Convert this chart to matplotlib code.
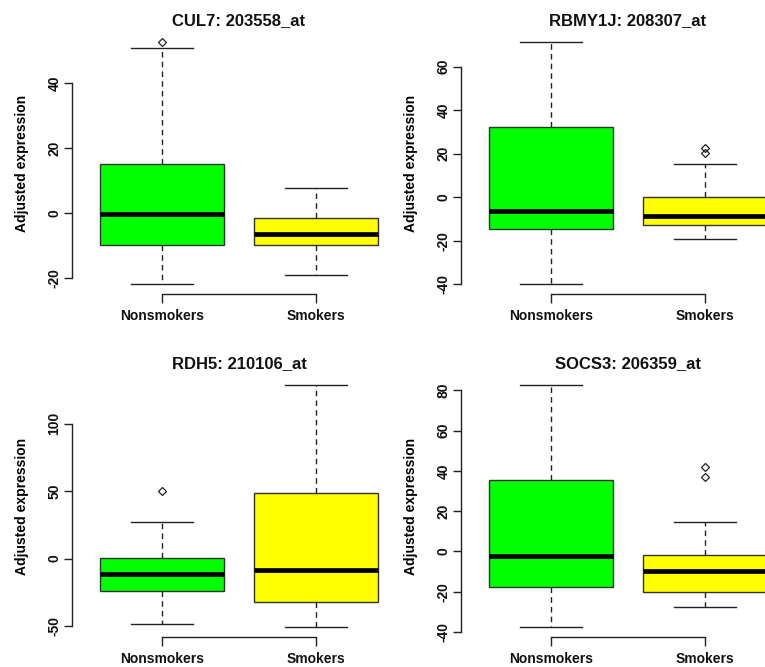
import numpy as np
import matplotlib
matplotlib.use("Agg")
import matplotlib.pyplot as plt

plt.rcParams["font.family"] = ["Liberation Sans", "DejaVu Sans"]
plt.rcParams["font.weight"] = "bold"
plt.rcParams["axes.unicode_minus"] = False
plt.rcParams["text.color"] = "#111111"
plt.rcParams["xtick.labelcolor"] = "#111111"
plt.rcParams["ytick.labelcolor"] = "#111111"

# -----------------------------
# Data (box statistics per group)
# -----------------------------
groups = ["Nonsmokers", "Smokers"]
titles = ["CUL7: 203558_at", "RBMY1J: 208307_at", "RDH5: 210106_at", "SOCS3: 206359_at"]

# order: whislo, q1, med, q3, whishi
cul7_non = [-21.8, -9.7, -0.3, 15.2, 50.8]
cul7_smk = [-18.9, -9.7, -6.2, -1.5, 7.9]
cul7_fliers = [[52.6], []]

rbmy_non = [-40.1, -14.9, -6.4, 32.2, 71.2]
rbmy_smk = [-19.4, -12.9, -8.7, 0.0, 15.3]
rbmy_fliers = [[], [20.1, 22.7]]

rdh5_non = [-48.5, -24.0, -11.4, 0.7, 27.0]
rdh5_smk = [-51.0, -31.9, -8.4, 48.8, 129.0]
rdh5_fliers = [[50.2], []]

socs3_non = [-37.7, -17.7, -2.5, 35.6, 82.8]
socs3_smk = [-27.6, -20.2, -9.9, -1.7, 14.6]
socs3_fliers = [[], [36.8, 41.9]]

yticks = [
    [-20, 0, 20, 40],
    [-40, -20, 0, 20, 40, 60],
    [-50, 0, 50, 100],
    [-40, -20, 0, 20, 40, 60, 80],
]

panels = [
    (cul7_non, cul7_smk, cul7_fliers),
    (rbmy_non, rbmy_smk, rbmy_fliers),
    (rdh5_non, rdh5_smk, rdh5_fliers),
    (socs3_non, socs3_smk, socs3_fliers),
]

colors = ["#00ff00", "#ffff00"]

# axes rectangles in figure fraction (right column runs past the image edge)
W, H = 765, 667
rects = [
    (72 / W, 1 - 294 / H, 334 / W, 261.5 / H),
    (461 / W, 1 - 294 / H, 334 / W, 261.5 / H),
    (72 / W, 1 - 637 / H, 334 / W, 262 / H),
    (461 / W, 1 - 637 / H, 334 / W, 262 / H),
]

fig = plt.figure(figsize=(W / 100, H / 100), dpi=100)

for i, (non, smk, fl) in enumerate(panels):
    ax = fig.add_axes(rects[i])
    stats = []
    for vals, f, lab in zip([non, smk], fl, groups):
        stats.append(dict(whislo=vals[0], q1=vals[1], med=vals[2], q3=vals[3],
                          whishi=vals[4], fliers=f, label=lab))
    bp = ax.bxp(stats, positions=[1, 2], widths=0.8, patch_artist=True,
                capwidths=0.4,
                boxprops=dict(edgecolor="#333333", linewidth=1.0),
                whiskerprops=dict(color="#222222", linewidth=1.0, linestyle=(0, (4, 3))),
                capprops=dict(color="#222222", linewidth=1.0),
                medianprops=dict(color="black", linewidth=3.4, solid_capstyle="butt"),
                flierprops=dict(marker="D", markersize=4.2, markerfacecolor="none",
                                markeredgecolor="#222222", markeredgewidth=0.9))
    for patch, c in zip(bp["boxes"], colors):
        patch.set_facecolor(c)

    allv = non + smk + fl[0] + fl[1]
    lo, hi = min(allv), max(allv)
    pad = 0.04 * (hi - lo)
    ax.set_ylim(lo - pad, hi + pad)
    ax.set_xlim(0.42, 2.58)

    ax.set_yticks(yticks[i])
    ax.set_yticklabels([str(t) for t in yticks[i]])
    ax.set_xticks([1, 2])
    ax.set_xticklabels(groups)

    for s in ["top", "right"]:
        ax.spines[s].set_visible(False)
    ax.spines["left"].set_bounds(yticks[i][0], yticks[i][-1])
    ax.spines["bottom"].set_bounds(1, 2)
    for s in ["left", "bottom"]:
        ax.spines[s].set_linewidth(1.0)
        ax.spines[s].set_color("#222222")

    ax.tick_params(axis="y", direction="out", length=5.5, width=1.0, pad=2,
                   labelsize=10, labelrotation=90, color="#222222")
    ax.tick_params(axis="x", direction="out", length=6.5, width=1.0, pad=4,
                   labelsize=10, color="#222222")
    for t in ax.get_yticklabels():
        t.set_verticalalignment("center")
        t.set_fontweight("bold")
    for t in ax.get_xticklabels():
        t.set_fontweight("bold")

    ax.set_ylabel("Adjusted expression", fontsize=10, fontweight="bold")
    ax.yaxis.set_label_coords(-0.13, 0.5)
    ax.set_title(titles[i], fontsize=12, fontweight="bold", pad=5)

fig.savefig("out.png", dpi=100)
